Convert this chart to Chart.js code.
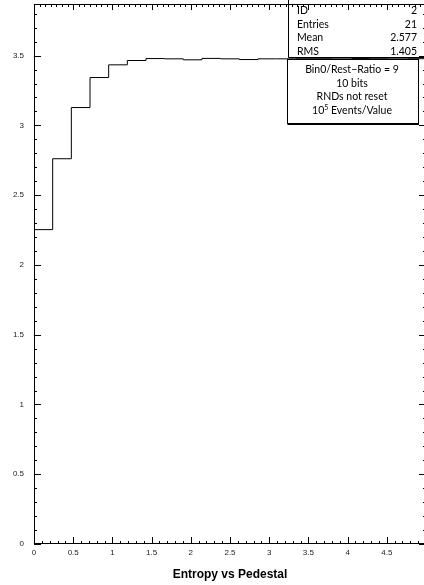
<!DOCTYPE html>
<html>
<head>
<meta charset="utf-8">
<script src="https://cdn.jsdelivr.net/npm/chart.js@4.4.0/dist/chart.umd.min.js"></script>
<style>
  html, body { margin: 0; padding: 0; overflow: hidden; background: #fff; }
  canvas { display: block; }
</style>
</head>
<body>
<canvas id="entropyChart" width="430" height="585"></canvas>
<script>
//contenido de los 21 bins, de 0 a 5
const binValues = [2.253, 2.761, 3.128, 3.343, 3.434, 3.465, 3.479, 3.477, 3.470, 3.480, 3.477,
                   3.472, 3.477, 3.477, 3.478, 3.478, 3.477, 3.479, 3.478, 3.477, 3.478]
const xMin = 0
const xMax = 5
const yMax = 3.87

//ticks con etiqueta
const xTicks = [0, 0.5, 1, 1.5, 2, 2.5, 3, 3.5, 4, 4.5, 5]
const xTickLabels = ['0', '0.5', '1', '1.5', '2', '2.5', '3', '3.5', '4', '4.5', '5']
const yTicks = [0, 0.5, 1, 1.5, 2, 2.5, 3, 3.5]
const yTickLabels = ['0', '0.5', '1', '1.5', '2', '2.5', '3', '3.5']

//ticks pequenos
const xMinorStep = 0.1
const yMinorStep = 0.1
const topMinorStep = 0.5 / 7

//cajas de estadisticas
const statsNames = ['ID', 'Entries', 'Mean', 'RMS']
const statsValues = ['2', '21', '2.577', '1.405']
const infoLines = ['Bin0/Rest\u2212Ratio = 9', '10 bits', 'RNDs not reset', '10^5 Events/Value']
const xTitle = 'Entropy vs Pedestal'

const labelFont = { family: '"Liberation Sans", Arial, sans-serif', size: 8 }
const boxFont = '10.5px Lato, "DejaVu Sans", sans-serif'
const boxFontSmall = '7px Lato, "DejaVu Sans", sans-serif'

//puntos del histograma: borde izquierdo de cada bin + cierre en xMax
const binWidth = (xMax - xMin) / binValues.length
const histPoints = binValues.map((v, i) => ({ x: xMin + i * binWidth, y: v }))
histPoints.push({ x: xMax, y: binValues[binValues.length - 1] })

//texto con superindice tipo 10^5
const drawSuperText = (ctx, text, cx, cy) => {
    const parts = text.match(/^(.*?)\^(\S)(.*)$/)
    if (!parts) {
        ctx.textAlign = 'center'
        ctx.fillText(text, cx, cy)
        return
    }
    ctx.font = boxFont
    const w1 = ctx.measureText(parts[1]).width
    const w3 = ctx.measureText(parts[3]).width
    ctx.font = boxFontSmall
    const w2 = ctx.measureText(parts[2]).width
    let x0 = cx - (w1 + w2 + w3) / 2
    ctx.textAlign = 'left'
    ctx.font = boxFont
    ctx.fillText(parts[1], x0, cy)
    ctx.font = boxFontSmall
    ctx.fillText(parts[2], x0 + w1, cy - 3)
    ctx.font = boxFont
    ctx.fillText(parts[3], x0 + w1 + w2, cy)
}

//marco, ticks hacia dentro y cajas de texto
const framePlugin = {
    id: 'framePlugin',
    afterDraw(chart) {
        const { ctx, chartArea: { left, right, top, bottom }, scales: { x, y } } = chart
        ctx.save()
        ctx.strokeStyle = '#000'
        ctx.lineWidth = 1

        //cajas
        ctx.beginPath()
        ctx.moveTo(288.5, -2)
        ctx.lineTo(288.5, 57.5)
        ctx.lineTo(432, 57.5)
        ctx.stroke()
        ctx.strokeRect(287.5, 59.5, 131, 64)
        ctx.lineWidth = 2
        ctx.beginPath()
        ctx.moveTo(287.5, 124)
        ctx.lineTo(419, 124)
        ctx.stroke()
        ctx.lineWidth = 1

        ctx.fillStyle = '#000'
        ctx.font = boxFont
        ctx.textBaseline = 'middle'
        statsNames.forEach((name, i) => {
            const cy = 10.5 + i * 13.75
            ctx.textAlign = 'left'
            ctx.fillText(name, 297, cy)
            ctx.textAlign = 'right'
            ctx.fillText(statsValues[i], 417, cy)
        })
        infoLines.forEach((line, i) => {
            ctx.font = boxFont
            drawSuperText(ctx, line, 352, 70 + i * 13.5)
        })

        //marco
        ctx.strokeRect(left + 0.5, top + 0.5, right - left - 1, bottom - top - 1)

        ctx.beginPath()
        //eje izquierdo y derecho
        for (let i = 0; i * yMinorStep <= yMax + 1e-9; i++) {
            const py = Math.round(y.getPixelForValue(i * yMinorStep)) + 0.5
            const len = i % 5 === 0 ? 7 : 3
            ctx.moveTo(left, py)
            ctx.lineTo(left + len, py)
            ctx.moveTo(right, py)
            ctx.lineTo(right - len, py)
        }
        //eje inferior
        for (let i = 0; i * xMinorStep <= xMax + 1e-9; i++) {
            const px = Math.round(x.getPixelForValue(i * xMinorStep)) + 0.5
            const len = i % 5 === 0 ? 7 : 3
            ctx.moveTo(px, bottom)
            ctx.lineTo(px, bottom - len)
        }
        //eje superior
        for (let i = 0; i * topMinorStep <= xMax + 1e-9; i++) {
            const px = Math.round(x.getPixelForValue(i * topMinorStep)) + 0.5
            const len = i % 7 === 0 ? 6 : 3
            ctx.moveTo(px, top)
            ctx.lineTo(px, top + len)
        }
        ctx.stroke()
        ctx.restore()
    }
}

const renderHistogram = () => {
    const data = {
        datasets: [{
            data: histPoints,
            //escalon: horizontal con el valor del bin y luego vertical
            stepped: 'before',
            borderColor: '#000',
            borderWidth: 1,
            pointRadius: 0,
            fill: false
        }]
    }
    const options = {
        responsive: false,
        animation: false,
        layout: { padding: { top: 4, right: 4, left: 0, bottom: 0 } },
        plugins: { legend: { display: false }, tooltip: { enabled: false } },
        scales: {
            x: {
                type: 'linear',
                min: xMin,
                max: xMax,
                grid: { display: false, drawTicks: false },
                border: { display: false },
                afterBuildTicks: scale => { scale.ticks = xTicks.map(v => ({ value: v })) },
                afterFit: scale => {
                    scale.height = 41
                    scale.paddingLeft = 0
                    scale.paddingRight = 0
                },
                ticks: {
                    color: '#222',
                    font: labelFont,
                    padding: 4,
                    maxRotation: 0,
                    callback: v => xTickLabels[xTicks.indexOf(v)]
                },
                title: {
                    display: true,
                    text: xTitle,
                    color: '#000',
                    font: { family: '"Liberation Sans", Arial, sans-serif', size: 12, weight: 'bold' },
                    padding: { top: 0, bottom: 3 }
                }
            },
            y: {
                min: 0,
                max: yMax,
                grid: { display: false, drawTicks: false },
                border: { display: false },
                afterBuildTicks: scale => { scale.ticks = yTicks.map(v => ({ value: v })) },
                afterFit: scale => {
                    scale.width = 34
                    scale.paddingTop = 0
                    scale.paddingBottom = 0
                },
                ticks: {
                    color: '#222',
                    font: labelFont,
                    padding: 10,
                    callback: v => yTickLabels[yTicks.indexOf(v)]
                }
            }
        }
    }
    new Chart('entropyChart', { type: 'line', data, options, plugins: [framePlugin] })
}

renderHistogram()
</script>
</body>
</html>
